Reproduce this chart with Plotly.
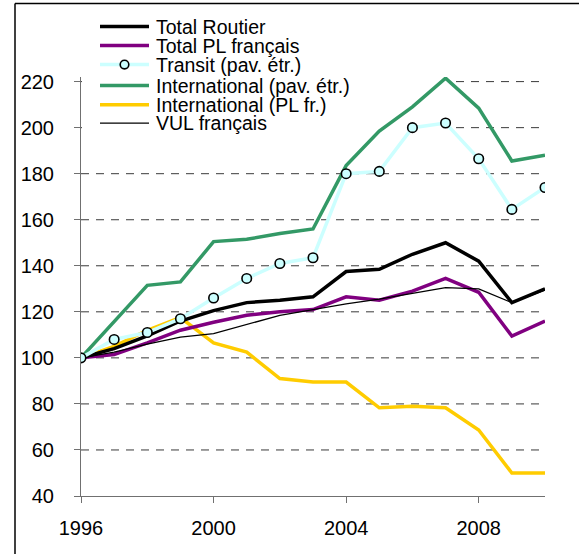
import plotly.graph_objects as go

years = list(range(1996, 2011))
total_routier = [100, 104, 109.5, 116, 120.5, 124, 125, 126.5, 137.5, 138.5, 145, 150, 142, 124, 130]
total_pl_fr = [100, 101.5, 106.5, 112, 115.5, 118.5, 120, 121, 126.5, 125, 129, 134.5, 128.5, 109.5, 116]
transit = [100, 108, 111, 117, 126, 134.5, 141, 143.5, 180, 181, 200, 202, 186.5, 164.5, 174]
intl_pav = [100, 116, 131.5, 133, 150.5, 151.5, 154, 156, 183.5, 198.5, 209, 221.5, 208.5, 185.5, 188]
intl_pl = [100, 105, 112, 117.5, 106.5, 102.5, 91, 89.5, 89.5, 78.3, 79, 78.3, 68.7, 50, 50]
vul_fr = [100, 102.5, 106, 109, 110.5, 114.5, 118.5, 121, 123.5, 125.5, 128, 130.5, 130, 124, 129.5]

names = ["Total Routier", "Total PL français", "Transit (pav. étr.)",
         "International (pav. étr.)", "International (PL fr.)", "VUL français"]
x_ticks = [1996, 2000, 2004, 2008]
y_ticks = [40, 60, 80, 100, 120, 140, 160, 180, 200, 220]
grid_vals = [60, 80, 100, 120, 140, 160, 180, 200, 220]

W, H = 579, 554
Y_TOP = 222
L, R = 81, 545
B = 496
T = 82 - (Y_TOP - 220) * (B - 82) / 180.0
FONT = "Liberation Sans, Arial, sans-serif"

def px2x(px):
    return (px - L) / (R - L)

def py2y(py):
    return (B - py) / (B - T)

col = {
    "black": "#000000", "purple": "#800080", "cyan": "#CCFFFF",
    "green": "#339966", "yellow": "#FFCC00",
}

fig = go.Figure()
fig.add_trace(go.Scatter(x=years, y=intl_pav, mode="lines", name=names[3],
                         line=dict(color=col["green"], width=3.5)))
fig.add_trace(go.Scatter(x=years, y=intl_pl, mode="lines", name=names[4],
                         line=dict(color=col["yellow"], width=3.5)))
fig.add_trace(go.Scatter(x=years, y=total_pl_fr, mode="lines", name=names[1],
                         line=dict(color=col["purple"], width=3.5)))
fig.add_trace(go.Scatter(x=years, y=vul_fr, mode="lines", name=names[5],
                         line=dict(color=col["black"], width=1.3)))
fig.add_trace(go.Scatter(x=years, y=total_routier, mode="lines", name=names[0],
                         line=dict(color=col["black"], width=3.5)))
fig.add_trace(go.Scatter(x=years, y=transit, mode="lines+markers", name=names[2],
                         line=dict(color=col["cyan"], width=3.5),
                         marker=dict(symbol="circle", size=9.5, color=col["cyan"],
                                     line=dict(color="black", width=1.6))))

shapes = []
annotations = []
# dashed gridlines (below traces)
for gv in grid_vals:
    shapes.append(dict(type="line", xref="paper", yref="y", layer="below",
                       x0=0, x1=1, y0=gv, y1=gv,
                       line=dict(color="#3a3a3a", width=1, dash="8px,7px")))
# white legend background hiding gridlines
shapes.append(dict(type="rect", xref="paper", yref="paper", layer="below",
                   x0=px2x(82), x1=px2x(450), y0=py2y(140), y1=1.02,
                   fillcolor="white", line=dict(width=0)))
# manual legend
rows = [27, 46, 65, 86, 105, 123.5]
styles = [(col["black"], 3.5), (col["purple"], 3.5), (col["cyan"], 3.5),
          (col["green"], 3.5), (col["yellow"], 3.5), (col["black"], 1.3)]
for name, ry, (c, w) in zip(names, rows, styles):
    shapes.append(dict(type="line", xref="paper", yref="paper",
                       x0=px2x(100), x1=px2x(149), y0=py2y(ry), y1=py2y(ry),
                       line=dict(color=c, width=w)))
    annotations.append(dict(xref="paper", yref="paper", x=px2x(154), y=py2y(ry),
                            xanchor="left", yanchor="middle", showarrow=False,
                            text=name, font=dict(family=FONT, size=19.5, color="black")))
# transit marker in legend
cx, cy, r = 124.5, rows[2], 4.3
shapes.append(dict(type="circle", xref="paper", yref="paper",
                   x0=px2x(cx - r), x1=px2x(cx + r), y0=py2y(cy + r), y1=py2y(cy - r),
                   fillcolor=col["cyan"], line=dict(color="black", width=1.6)))
# outer frame (left & top)
shapes.append(dict(type="line", xref="paper", yref="paper",
                   x0=px2x(15), x1=px2x(15), y0=py2y(4), y1=py2y(560),
                   line=dict(color="black", width=1.5)))
shapes.append(dict(type="line", xref="paper", yref="paper",
                   x0=px2x(15), x1=px2x(585), y0=py2y(4), y1=py2y(4),
                   line=dict(color="black", width=1.5)))

fig.update_layout(
    width=W, height=H,
    margin=dict(l=L, r=W - R, t=T, b=H - B, pad=0),
    paper_bgcolor="white", plot_bgcolor="white",
    showlegend=False,
    font=dict(family=FONT, size=20, color="black"),
    shapes=shapes, annotations=annotations,
)
fig.update_xaxes(range=[1996, 2010], tickvals=x_ticks, ticktext=[str(v) for v in x_ticks],
                 showgrid=False, zeroline=False, showline=True, linecolor="#707070",
                 linewidth=1, ticks="outside", ticklen=6, tickcolor="#707070",
                 ticklabelstandoff=8, tickfont=dict(size=20, color="black"))
fig.update_yaxes(range=[40, Y_TOP], tickvals=y_ticks, ticktext=[str(v) for v in y_ticks],
                 showgrid=False, zeroline=False, showline=True, linecolor="#707070",
                 linewidth=1, ticks="outside", ticklen=6, tickcolor="#707070",
                 ticklabelstandoff=16, tickfont=dict(size=20, color="black"))

fig.write_html("out.html", config={"displayModeBar": False},
               post_script="document.body.style.margin='0px';")
